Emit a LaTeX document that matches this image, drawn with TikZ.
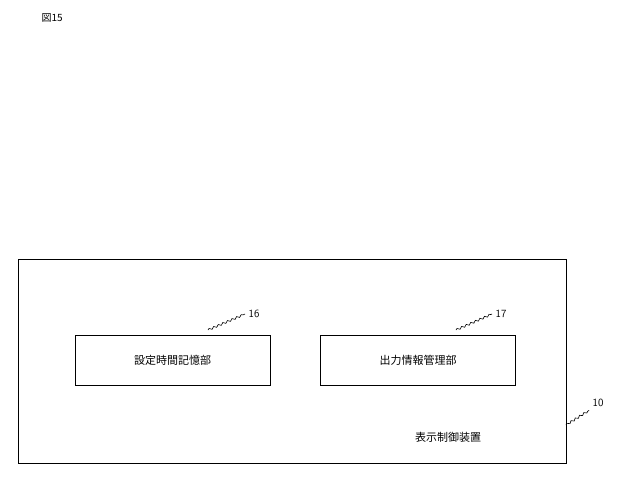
\documentclass[tikz,border=0pt]{standalone}
\usepackage{fontspec}
\newfontfamily\cjk{Noto Sans CJK JP}
\usetikzlibrary{decorations.pathmorphing}
\begin{document}
\begin{tikzpicture}[x=1pt,y=-1pt,
  box/.style={draw,line width=0.8pt,minimum width=195pt,minimum height=50pt,font=\cjk\fontsize{11}{13}\selectfont},
  lbl/.style={font=\fontsize{11}{13}\selectfont\sffamily},
  squig/.style={line width=0.6pt,decorate,decoration={snake,amplitude=1pt,segment length=5pt}}]
\useasboundingbox (0,0) rectangle (622,480);
\node[anchor=west,font=\cjk\fontsize{10}{12}\selectfont] (fig) at (38,18) {図15};
\node[draw,line width=0.8pt,minimum width=548pt,minimum height=204pt,anchor=north west] (outer) at (18,259) {};
\node[box] (b16) at (172.5,360) {設定時間記憶部};
\node[box] (b17) at (418,360) {出力情報管理部};
\node[lbl] (l16) at (254,314) {16};
\node[lbl] (l17) at (501,314) {17};
\node[lbl] (l10) at (598,403) {10};
\node[font=\cjk\fontsize{11}{13}\selectfont] (t10) at (448,437) {表示制御装置};
\coordinate (c16) at (208,330);
\coordinate (c17) at (456,330);
\coordinate (c10) at (566,425);
\draw[squig] (c16) -- (l16.west);
\draw[squig] (c17) -- (l17.west);
\draw[squig] (c10) -- (l10.south west);
\end{tikzpicture}
\end{document}
